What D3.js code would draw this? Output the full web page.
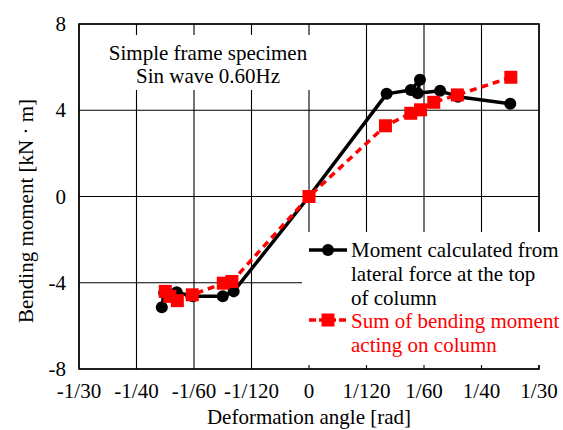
<!DOCTYPE html>
<html><head><meta charset="utf-8">
<script src="https://cdn.jsdelivr.net/npm/d3@7"></script>
<style>body{margin:0;background:#fff}svg{display:block}</style>
</head><body>
<svg id="c" width="563" height="430" font-family="'Liberation Serif','Times New Roman',serif"></svg>
<script>
// Deformation angle [rad]
const momentX = [-0.02133,-0.02100,-0.01917,-0.01683,-0.01250,-0.01092,0,0.01125,0.01475,0.01608,0.01575,0.01900,0.02158,0.02917];
const momentY = [-5.14,-4.47,-4.44,-4.63,-4.63,-4.40,0,4.76,4.94,5.41,4.79,4.90,4.63,4.30];
const sumX = [-0.02083,-0.02017,-0.01908,-0.01692,-0.01242,-0.01117,0,0.01108,0.01475,0.01617,0.01808,0.02150,0.02925];
const sumY = [-4.40,-4.63,-4.83,-4.56,-4.02,-3.94,0,3.28,3.86,4.02,4.37,4.71,5.53];
const xTicks = [-1/30,-1/40,-1/60,-1/120,0,1/120,1/60,1/40,1/30];
const xTickLabels = ["-1/30","-1/40","-1/60","-1/120","0","1/120","1/60","1/40","1/30"];
const yTicks = [-8,-4,0,4,8];
const seriesNames = ["Moment calculated from|lateral force at the top|of column","Sum of bending moment|acting on column"];

const FONT = "'Liberation Serif','Times New Roman',serif";
const svg = d3.select("#c");
const L=79,R=539,T=24,B=369;
const x = d3.scaleLinear().domain([-1/30,1/30]).range([L,R]);
const y = d3.scaleLinear().domain([-8,8]).range([B,T]);
const fs = 21;

// grid
const g = svg.append("g");
g.selectAll("line.vx").data(xTicks).join("line")
  .attr("x1",d=>x(d)).attr("x2",d=>x(d)).attr("y1",T).attr("y2",B)
  .attr("stroke","#000").attr("stroke-width",1.1);
g.selectAll("line.hy").data(yTicks).join("line")
  .attr("y1",d=>y(d)).attr("y2",d=>y(d)).attr("x1",L).attr("x2",R)
  .attr("stroke","#000").attr("stroke-width",1.1);
g.append("rect").attr("x",L).attr("y",T).attr("width",R-L).attr("height",B-T)
  .attr("fill","none").attr("stroke","#000").attr("stroke-width",1.5);

// white boxes
svg.append("rect").attr("x",88).attr("y",35).attr("width",245).attr("height",55).attr("fill","#fff");
svg.append("rect").attr("x",302).attr("y",232).attr("width",261).attr("height",133).attr("fill","#fff");

function txt(sel){ return sel.attr("font-family",FONT).attr("font-size",fs); }

// tick labels
txt(svg.selectAll("text.xt").data(xTicks).join("text"))
  .attr("x",d=>x(d)).attr("y",398).attr("text-anchor","middle")
  .text((d,i)=>xTickLabels[i]);
txt(svg.selectAll("text.yt").data(yTicks).join("text"))
  .attr("x",66).attr("y",d=>y(d)+7).attr("text-anchor","end")
  .text(d=>d);

// titles
txt(svg.append("text")).attr("x",(L+R)/2).attr("y",424).attr("text-anchor","middle")
  .text("Deformation angle [rad]");
txt(svg.append("text")).attr("transform","translate(33,211) rotate(-90)").attr("text-anchor","middle")
  .text("Bending moment [kN \u00B7 m]");

// annotation
txt(svg.append("text")).attr("x",208).attr("y",60).attr("text-anchor","middle").text("Simple frame specimen");
txt(svg.append("text")).attr("x",208).attr("y",83).attr("text-anchor","middle").text("Sin wave 0.60Hz");

// series
const line = d3.line().x(d=>x(d[0])).y(d=>y(d[1]));
const mData = momentX.map((v,i)=>[v,momentY[i]]);
const sData = sumX.map((v,i)=>[v,sumY[i]]);

svg.append("path").datum(mData).attr("d",line).attr("fill","none").attr("stroke","#000").attr("stroke-width",3.5).attr("stroke-linejoin","round");
svg.selectAll("circle.m").data(mData).join("circle").attr("cx",d=>x(d[0])).attr("cy",d=>y(d[1])).attr("r",6).attr("fill","#000");

svg.append("path").datum(sData).attr("d",line).attr("fill","none").attr("stroke","#ff0000").attr("stroke-width",3.5).attr("stroke-dasharray","7,5");
const sq=13;
svg.selectAll("rect.s").data(sData).join("rect").attr("x",d=>x(d[0])-sq/2).attr("y",d=>y(d[1])-sq/2).attr("width",sq).attr("height",sq).attr("fill","#ff0000");

// legend
const lg = svg.append("g");
lg.append("line").attr("x1",309).attr("x2",347).attr("y1",250).attr("y2",250).attr("stroke","#000").attr("stroke-width",3.5);
lg.append("circle").attr("cx",328).attr("cy",250).attr("r",6).attr("fill","#000");
seriesNames[0].split("|").forEach((t,i)=>{
  txt(lg.append("text")).attr("x",351).attr("y",257+i*24).attr("fill","#000").text(t);
});
lg.append("line").attr("x1",309).attr("x2",347).attr("y1",320).attr("y2",320).attr("stroke","#ff0000").attr("stroke-width",3.5).attr("stroke-dasharray","7,3");
lg.append("rect").attr("x",328-sq/2).attr("y",320-sq/2).attr("width",sq).attr("height",sq).attr("fill","#ff0000");
seriesNames[1].split("|").forEach((t,i)=>{
  txt(lg.append("text")).attr("x",351).attr("y",328+i*24).attr("fill","#ff0000").text(t);
});
</script>
</body></html>
